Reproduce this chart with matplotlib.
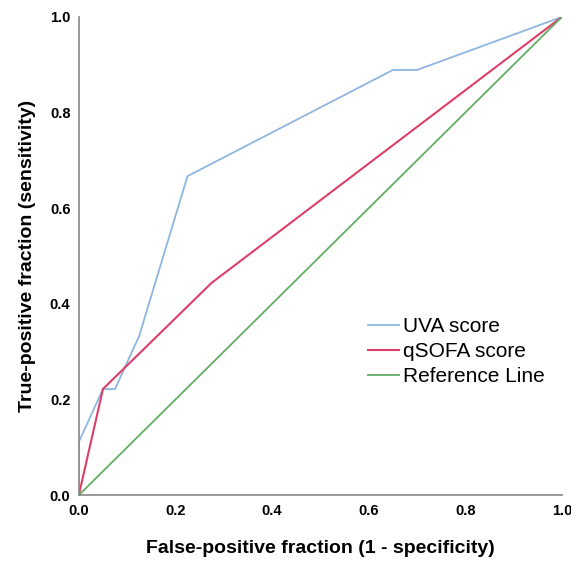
import matplotlib
matplotlib.use("Agg")
import matplotlib.pyplot as plt

plt.rcParams["font.family"] = ["Liberation Sans", "DejaVu Sans"]

# ROC coordinates
uva_fpr = [0.0, 0.0, 0.05, 0.075, 0.125, 0.225, 0.65, 0.70, 1.0]
uva_tpr = [0.0, 0.111, 0.222, 0.222, 0.333, 0.667, 0.889, 0.889, 1.0]

qsofa_fpr = [0.0, 0.05, 0.275, 1.0]
qsofa_tpr = [0.0, 0.222, 0.444, 1.0]

ref_fpr = [0.0, 1.0]
ref_tpr = [0.0, 1.0]

ticks = [0.0, 0.2, 0.4, 0.6, 0.8, 1.0]

fig = plt.figure(figsize=(5.71, 5.64), dpi=100)
ax = fig.add_axes([0.138, 0.122, 0.846, 0.848])

ax.plot(uva_fpr, uva_tpr, color="#8fb6e0", lw=1.3, label="UVA score")
ax.plot(qsofa_fpr, qsofa_tpr, color="#de3f68", lw=1.5, label="qSOFA score")
ax.plot(ref_fpr, ref_tpr, color="#63ad63", lw=1.3, label="Reference Line")

ax.set_xlim(0, 1)
ax.set_ylim(0, 1)
ax.set_xticks(ticks)
ax.set_yticks(ticks)
ax.set_xticklabels([f"{t:.1f}" for t in ticks], fontweight="bold", fontsize=10.5)
ax.set_yticklabels([f"{t:.1f}" for t in ticks], fontweight="bold", fontsize=10.5)
ax.tick_params(length=0, pad=6)

for side in ("top", "right"):
    ax.spines[side].set_visible(False)
for side in ("left", "bottom"):
    ax.spines[side].set_color("#888888")
    ax.spines[side].set_linewidth(1.2)

ax.set_xlabel("False-positive fraction (1 - specificity)", fontweight="bold",
              fontsize=14, labelpad=16)
ax.set_ylabel("True-positive fraction (sensitivity)", fontweight="bold",
              fontsize=14, labelpad=10)

ax.legend(loc="center left", bbox_to_anchor=(0.56, 0.30), frameon=False,
          fontsize=15, handlelength=1.5, handletextpad=0.2, labelspacing=0.3)

fig.savefig("out.png", dpi=100)
